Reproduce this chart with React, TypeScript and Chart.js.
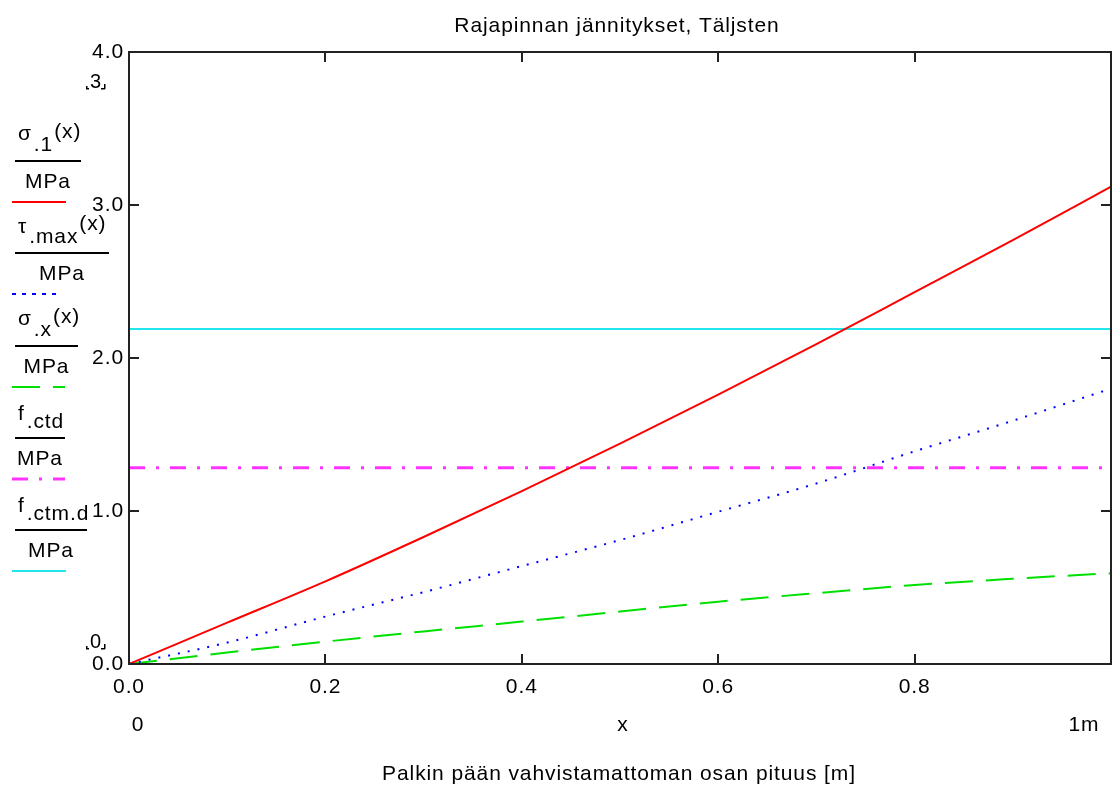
import React, { useEffect, useRef } from "react";
import { Chart, registerables } from "chart.js";

Chart.register(...registerables);

// ---------- data ----------
const xValues = [0, 0.1, 0.2, 0.3, 0.4, 0.5, 0.6, 0.7, 0.8, 0.9, 1.0];
const sigma1 = [0, 0.27, 0.54, 0.83, 1.13, 1.44, 1.76, 2.09, 2.43, 2.77, 3.12];
const tauMax = [0, 0.14, 0.31, 0.47, 0.64, 0.81, 0.995, 1.18, 1.39, 1.59, 1.8];
const sigmaX = [0, 0.075, 0.146, 0.213, 0.277, 0.343, 0.407, 0.463, 0.516, 0.557, 0.593];
const levelX = [0, 1];
const fctd = [1.283, 1.283];
const fctmd = [2.19, 2.19];

const xTickLabels = ["0.0", "0.2", "0.4", "0.6", "0.8"];
const yTickLabels = ["0.0", "1.0", "2.0", "3.0", "4.0"];
const chartTitle = "Rajapinnan jännitykset, Täljsten";
const xAxisTitle = "Palkin pään vahvistamattoman osan pituus [m]";
const xRangeLabels = ["0", "x", "1m"];
const yRangeMarks = ["3", "0"];

const legendNames = [
  { main: "σ", sub: ".1", sup: "(x)", unit: "MPa" },
  { main: "τ", sub: ".max", sup: "(x)", unit: "MPa" },
  { main: "σ", sub: ".x", sup: "(x)", unit: "MPa" },
  { main: "f", sub: ".ctd", sup: "", unit: "MPa" },
  { main: "f", sub: ".ctm.d", sup: "", unit: "MPa" },
];

const FONT = '"Liberation Sans", Arial, sans-serif';

const pts = (xs: number[], ys: number[]) => xs.map((x, i) => ({ x, y: ys[i] }));

const zeroPad = (s: any) => {
  s.paddingLeft = 0;
  s.paddingRight = 0;
  s.paddingTop = 0;
  s.paddingBottom = 0;
};

const decorPlugin = {
  id: "decor",
  beforeDraw(chart: any) {
    chart.ctx.letterSpacing = "0.9px";
  },
  afterDraw(chart: any) {
    const ctx: CanvasRenderingContext2D = chart.ctx;
    const area = chart.chartArea;
    const xs = chart.scales.x;
    const ys = chart.scales.y;
    ctx.save();
    (ctx as any).letterSpacing = "0.9px";

    // frame
    ctx.strokeStyle = "#222";
    ctx.lineWidth = 2;
    ctx.setLineDash([]);
    ctx.strokeRect(area.left, area.top, area.right - area.left, area.bottom - area.top);

    // inward tick marks on all four sides
    const tl = 10;
    ctx.beginPath();
    xs.ticks.forEach((t: any) => {
      if (t.value <= 0 || t.value >= 1) return;
      const px = Math.round(xs.getPixelForValue(t.value));
      ctx.moveTo(px, area.bottom);
      ctx.lineTo(px, area.bottom - tl);
      ctx.moveTo(px, area.top);
      ctx.lineTo(px, area.top + tl);
    });
    ys.ticks.forEach((t: any) => {
      if (t.value <= 0 || t.value >= 4) return;
      const py = Math.round(ys.getPixelForValue(t.value));
      ctx.moveTo(area.left, py);
      ctx.lineTo(area.left + tl, py);
      ctx.moveTo(area.right, py);
      ctx.lineTo(area.right - tl, py);
    });
    ctx.stroke();

    ctx.fillStyle = "#000";
    ctx.font = `21px ${FONT}`;
    ctx.textBaseline = "alphabetic";

    // titles
    ctx.textAlign = "center";
    ctx.fillText(chartTitle, 617, 32);
    ctx.fillText(xAxisTitle, 619, 780);

    // range labels under x axis
    ctx.fillText(xRangeLabels[0], 138, 731);
    ctx.fillText(xRangeLabels[1], 623, 731);
    ctx.fillText(xRangeLabels[2], 1084, 731);

    // y range marks (.3. and .0.)
    const marks = [
      { t: yRangeMarks[0], base: 88 },
      { t: yRangeMarks[1], base: 648 },
    ];
    ctx.font = `20px ${FONT}`;
    marks.forEach((m) => {
      ctx.fillText(m.t, 96, m.base);
      ctx.fillRect(86, m.base - 2, 1.5, 3);
      ctx.fillRect(86, m.base, 3, 1.5);
      ctx.fillRect(104, m.base - 4, 1.5, 5);
      ctx.fillRect(101, m.base, 4, 1.5);
    });

    // legend (Mathcad-style fractions)
    const barYs = [161, 253, 346, 438, 530];
    const barX2 = [81, 109, 78, 65, 87];
    const mainDy = [-21, -20, -21, -18, -18];
    const sampleX2 = [66, 60, 65, 65, 66];
    legendNames.forEach((n, i) => {
      const by = barYs[i];
      ctx.textAlign = "left";
      ctx.fillStyle = "#000";
      let x = 18;
      ctx.font = `21px ${FONT}`;
      ctx.fillText(n.main, x, by + mainDy[i]);
      x += ctx.measureText(n.main).width + 2;
      ctx.fillText(n.sub, x, by - 10);
      x += ctx.measureText(n.sub).width + 1;
      if (n.sup) ctx.fillText(n.sup, x, by - 23);
      ctx.fillRect(15, by - 1, barX2[i] - 15, 2);
      ctx.textAlign = "center";
      ctx.fillText(n.unit, (15 + barX2[i]) / 2, by + 27);

      const ds = chart.data.datasets[i];
      ctx.save();
      ctx.strokeStyle = ds.borderColor;
      ctx.lineWidth = ds.borderWidth;
      ctx.setLineDash(i === 1 ? [4, 6] : ds.borderDash || []);
      ctx.beginPath();
      ctx.moveTo(12, by + 41);
      ctx.lineTo(sampleX2[i], by + 41);
      ctx.stroke();
      ctx.restore();
    });

    ctx.restore();
  },
};

export default function App() {
  const ref = useRef<HTMLCanvasElement | null>(null);
  useEffect(() => {
    if (!ref.current) return;
    const chart = new Chart(ref.current, {
      type: "line",
      data: {
        datasets: [
          {
            label: "sigma1",
            data: pts(xValues, sigma1),
            borderColor: "#ff0000",
            borderWidth: 2,
            pointRadius: 0,
            cubicInterpolationMode: "monotone",
            borderDash: [],
          },
          {
            label: "tauMax",
            data: pts(xValues, tauMax),
            borderColor: "#0000ff",
            borderWidth: 2,
            pointRadius: 0,
            cubicInterpolationMode: "monotone",
            borderDash: [2, 8],
          },
          {
            label: "sigmaX",
            data: pts(xValues, sigmaX),
            borderColor: "#00e000",
            borderWidth: 2,
            pointRadius: 0,
            cubicInterpolationMode: "monotone",
            borderDash: [28, 13],
          },
          {
            label: "fctd",
            data: pts(levelX, fctd),
            borderColor: "#ff33ff",
            borderWidth: 3,
            pointRadius: 0,
            borderDash: [16, 11, 3, 11],
          },
          {
            label: "fctmd",
            data: pts(levelX, fctmd),
            borderColor: "#22e6ee",
            borderWidth: 2,
            pointRadius: 0,
            borderDash: [],
          },
        ] as any,
      },
      options: {
        responsive: false,
        animation: false,
        layout: { padding: { top: 52, right: 2, left: 0, bottom: 0 } },
        plugins: {
          legend: { display: false },
          title: { display: false },
          tooltip: { enabled: false },
        },
        scales: {
          x: {
            type: "linear",
            min: 0,
            max: 1,
            grid: { display: false, drawTicks: false },
            border: { display: false },
            ticks: {
              stepSize: 0.2,
              autoSkip: false,
              maxRotation: 0,
              padding: 11,
              color: "#000",
              font: { family: FONT, size: 21 },
              callback: (_v: any, i: number) => xTickLabels[i] ?? "",
            },
            afterFit: (s: any) => {
              s.height = 123;
              zeroPad(s);
            },
          },
          y: {
            type: "linear",
            min: 0,
            max: 4,
            grid: { display: false, drawTicks: false },
            border: { display: false },
            ticks: {
              stepSize: 1,
              autoSkip: false,
              padding: 5,
              color: "#000",
              font: { family: FONT, size: 21 },
              callback: (_v: any, i: number) => yTickLabels[i] ?? "",
            },
            afterFit: (s: any) => {
              s.width = 129;
              zeroPad(s);
            },
          },
        },
      } as any,
      plugins: [decorPlugin],
    });
    return () => chart.destroy();
  }, []);

  return (
    <div style={{ position: "absolute", left: 0, top: 0, width: 1113, height: 787, background: "#fff" }}>
      <canvas ref={ref} width={1113} height={787} style={{ display: "block" }} />
    </div>
  );
}
